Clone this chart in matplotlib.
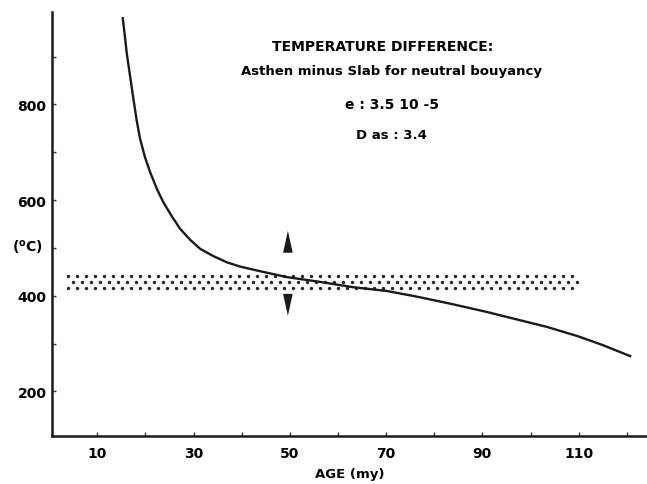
import matplotlib
matplotlib.use('Agg')
import matplotlib.pyplot as plt
from matplotlib.patches import Polygon
import numpy as np

plt.rcParams['font.family'] = 'DejaVu Sans'
plt.rcParams['font.weight'] = 'bold'

# temperature difference curve (age in my, T in deg C)
age = [15.3, 15.8, 16.1, 16.5, 17.0, 17.5, 18.2, 18.9, 19.9, 21.0, 22.4,
       23.7, 25.5, 27.2, 29.3, 31.4, 34.1, 36.9, 39.7, 43.1, 49.4, 56.3,
       63.1, 70.2, 77.0, 84.0, 91.0, 97.0, 103.4, 110.0, 115.0, 120.7]
temp = [980, 937, 909, 881, 847, 812, 766, 728, 690, 658, 623,
        596, 566, 540, 517, 498, 483, 470, 461, 453, 439, 429,
        418, 410, 397, 382, 366, 351, 335, 315, 297, 274]

# dotted band of neutral buoyancy
band_age = [4, 110]
band_low = 414
band_high = 443

# arrows at age 50
arrow_age = 49.6
arrow_up = (490, 536)     # base, tip
arrow_down = (404, 358)   # base, tip
arrow_halfwidth = 1.0

x_ticks = [10, 30, 50, 70, 90, 110]
y_ticks = [200, 400, 600, 800]

fig = plt.figure(figsize=(6.47, 4.85), dpi=100)
ax = fig.add_axes([52/647, 1 - 437/485, 1 - 52/647, 424/485])

# stipple texture for the band: three staggered rows of dots
step = 1.87
rows = np.linspace(band_low + 2, band_high - 2, 3)
for i, r in enumerate(rows):
    start = band_age[0] + (step / 2 if i == 1 else 0)
    xs = np.arange(start, band_age[1] + 0.01, step)
    ax.scatter(xs, np.full_like(xs, r), s=6, color='#262626',
               linewidths=0, zorder=2)

ax.plot(age, temp, color='#1a1a1a', lw=1.7, zorder=3)

for base, tip in (arrow_up, arrow_down):
    tri = Polygon([[arrow_age - arrow_halfwidth, base],
                   [arrow_age + arrow_halfwidth, base],
                   [arrow_age, tip]], closed=True, color='#1a1a1a', lw=0)
    ax.add_patch(tri)

ax.set_xlim(0.6, 124.2)
ax.set_ylim(107, 993)

ax.set_xticks(x_ticks)
ax.set_xticks(np.arange(20, 125, 20), minor=True)
ax.set_yticks(y_ticks)
ax.set_yticks([300, 500, 700, 900], minor=True)
ax.tick_params(which='both', direction='in', length=3, width=1, color='#333333',
               labelsize=10)
ax.tick_params(axis='x', which='major', pad=7)
ax.tick_params(axis='y', which='major', pad=4)

for s in ['top', 'right']:
    ax.spines[s].set_visible(False)
for s in ['left', 'bottom']:
    ax.spines[s].set_linewidth(1.8)
    ax.spines[s].set_color('#1a1a1a')

ax.set_xlabel('AGE (my)', fontsize=9.5, fontweight='bold', labelpad=5)
fig.text(27/647, 1 - 247/485, '($^{\\mathregular{o}}$C)', fontsize=10,
         fontweight='bold', ha='center', va='center')

ax.text(0.556, 0.92, 'TEMPERATURE DIFFERENCE:', transform=ax.transAxes,
        ha='center', va='center', fontsize=10, fontweight='bold')
ax.text(0.570, 0.861, 'Asthen minus Slab for neutral bouyancy',
        transform=ax.transAxes, ha='center', va='center', fontsize=9.5,
        fontweight='bold')
ax.text(0.571, 0.783, 'e : 3.5 10 -5', transform=ax.transAxes,
        ha='center', va='center', fontsize=10, fontweight='bold')
ax.text(0.571, 0.712, 'D as : 3.4', transform=ax.transAxes,
        ha='center', va='center', fontsize=9.5, fontweight='bold')

fig.savefig('out.png', dpi=100)
